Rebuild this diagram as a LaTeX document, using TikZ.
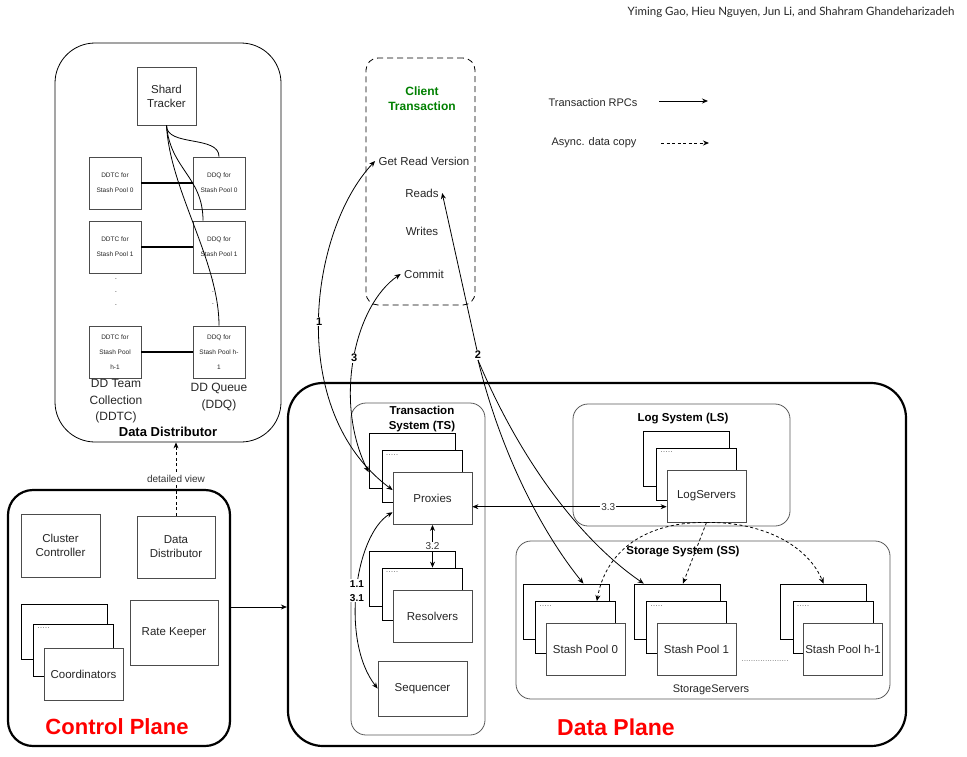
\documentclass[tikz,border=0pt]{standalone}
\usepackage{fontspec}
\setmainfont{Liberation Sans}
\newfontfamily\hdrfont{Lato}
\usetikzlibrary{arrows.meta,positioning}

\begin{document}
\begin{tikzpicture}[x=1pt,y=-1pt,>={Stealth[length=6pt,width=5pt]},
box/.style={draw=black!70,line width=0.8pt,fill=white,align=center,inner sep=1pt,text=black!85,font=\fontsize{11.5}{14}\selectfont},
ddbox/.style={box,minimum width=52pt,minimum height=52pt,font=\fontsize{6.5}{15}\selectfont},
backbox/.style={box,draw=black,minimum width=86pt,minimum height=55pt},
midbox/.style={box,draw=black,minimum width=80pt,minimum height=52pt},
frontbox/.style={box,minimum width=79pt,minimum height=52pt},
grp/.style={draw=black!65,line width=0.8pt,rounded corners=15pt},
planebox/.style={draw,line width=2.2pt},
ttl/.style={align=center,font=\bfseries\fontsize{11.5}{15}\selectfont},
num/.style={fill=white,inner sep=1pt,align=center,font=\bfseries\fontsize{11}{14}\selectfont},
lbl/.style={fill=white,inner sep=1pt,text=black!80,font=\fontsize{10}{12}\selectfont},
fewdots/.style={anchor=north west,inner sep=4pt,text=black!50,font=\fontsize{9}{10}\selectfont},
async/.style={line width=0.8pt,dash pattern=on 3pt off 2.5pt},
rpc/.style={line width=0.8pt}]
\useasboundingbox (0,0) rectangle (967,756);

\node[anchor=north east,text=black!85,font=\hdrfont\fontsize{11.5}{13}\selectfont] (hdr) at (958,3) {Yiming Gao, Hieu Nguyen, Jun Li, and Shahram Ghandeharizadeh};

% data distributor, detailed view
\node[draw,line width=0.8pt,rounded corners=40pt,minimum width=226pt,minimum height=399pt] (dd) at (168,242.5) {};
\node[font=\bfseries\fontsize{13}{15}\selectfont] (ddt) at (168,432) {Data Distributor};
\node[box,minimum width=59pt,minimum height=58pt] (st) at (166.5,96) {Shard\\Tracker};
\foreach \i/\y in {0/183,1/247}{
  \node[ddbox] (ddtc\i) at (115,\y) {DDTC for\\Stash Pool \i};
  \node[ddbox] (ddq\i) at (219,\y) {DDQ for\\Stash Pool \i};
}
\node[ddbox] (ddtch) at (115,352) {DDTC for\\Stash Pool\\h-1};
\node[ddbox] (ddqh) at (219,352) {DDQ for\\Stash Pool h-\\1};
\foreach \i in {0,1,h}
  \draw[line width=1.5pt] (ddtc\i) -- (ddq\i);
\node[align=center,text=black!70,font=\fontsize{8}{13}\selectfont] (dtsa) at (116,292) {.\\.\\.};
\node[align=center,text=black!70,font=\fontsize{8}{12}\selectfont] (dtsb) at (213,292) {.\\.\\.};
\draw[rpc] (st.south) to[out=-90,in=90,looseness=0.9] (ddq0.north);
\draw[rpc] (st.south) to[out=-85,in=90,looseness=1.1] ([xshift=-16pt]ddq1.north);
\draw[rpc] (st.south) to[out=-87,in=90,looseness=0.8] (ddqh.north);
\node[align=center,text=black!85,font=\fontsize{12}{16.5}\selectfont,anchor=north] (ddtcl) at (116,376) {DD Team\\Collection\\(DDTC)};
\node[align=center,text=black!85,font=\fontsize{12}{16.5}\selectfont,anchor=north] (ddql) at (219,380) {DD Queue\\(DDQ)};

% client transaction
\node[draw,line width=0.8pt,dash pattern=on 6pt off 4pt,rounded corners=12pt,minimum width=109pt,minimum height=247pt] (ct) at (420.5,181.5) {};
\node[ttl,text=green!50!black,font=\bfseries\fontsize{12}{15}\selectfont] (ctt) at (422,99) {Client\\Transaction};
\node[text=black!85,font=\fontsize{11.5}{14}\selectfont] (grv) at (424,161) {Get Read Version};
\node[text=black!85,font=\fontsize{11.5}{14}\selectfont] (rds) at (422,193) {Reads};
\node[text=black!85,font=\fontsize{11.5}{14}\selectfont] (wrt) at (422,231) {Writes};
\node[text=black!85,font=\fontsize{11.5}{14}\selectfont] (cmt) at (424,274) {Commit};

% legend
\node[text=black!85,font=\fontsize{11}{13}\selectfont] (lgr) at (593,103) {Transaction RPCs};
\node[text=black!85,font=\fontsize{11}{13}\selectfont] (lga) at (594,143) {Async. data copy};
\coordinate (lgr1) at (659,101); \coordinate (lgr2) at (708,101);
\coordinate (lga1) at (661,143); \coordinate (lga2) at (709,143);
\draw[rpc,->] (lgr1) -- (lgr2);
\draw[async,->] (lga1) -- (lga2);

% control plane
\node[planebox,rounded corners=25pt,minimum width=222pt,minimum height=256pt] (cp) at (119,618) {};
\node[text=red,font=\bfseries\fontsize{22}{26}\selectfont] (cpt) at (117,727) {Control Plane};
\node[box,minimum width=79pt,minimum height=63pt] (cc) at (60.5,545.5) {Cluster\\Controller};
\node[box,minimum width=78pt,minimum height=62pt] (ddsm) at (176,547) {Data\\Distributor};
\node[box,minimum width=88pt,minimum height=65pt] (rk) at (174,632.5) {Rate Keeper};
\node[backbox] (crd3) at (64,631.5) {};
\node[midbox] (crd2) at (73.5,650) {};
\node[fewdots] (crdd) at (crd2.north west) {.....};
\node[frontbox] (crd) at (83.5,674) {Coordinators};
\draw[async,->] (ddsm.north) -- node[lbl]{detailed view} (ddsm.north |- dd.south);

% data plane
\node[planebox,rounded corners=35pt,minimum width=618pt,minimum height=363pt] (dp) at (597,564.5) {};
\node[text=red,font=\bfseries\fontsize{23}{27}\selectfont] (dpt) at (616,727) {Data Plane};
\draw[rpc,->] ([yshift=11pt]cp.east) -- ([yshift=11pt]cp.east -| dp.west);

% transaction system
\node[grp,minimum width=134pt,minimum height=332pt] (ts) at (418,569) {};
\node[ttl] (tst) at (422,419) {Transaction\\System (TS)};
\node[backbox] (prx3) at (412,460.5) {};
\node[midbox] (prx2) at (422,476.5) {};
\node[fewdots] (prxd) at (prx2.north west) {.....};
\node[frontbox] (prx) at (432.5,498.5) {Proxies};
\node[backbox] (rsv3) at (412,578.5) {};
\node[midbox] (rsv2) at (422,594) {};
\node[fewdots] (rsvd) at (rsv2.north west) {.....};
\node[frontbox] (rsv) at (432.5,616) {Resolvers};
\node[box,minimum width=89pt,minimum height=55pt] (seq) at (422.5,688.5) {Sequencer};

% log system
\node[grp,minimum width=217pt,minimum height=122pt] (ls) at (681.5,465) {};
\node[ttl] (lst) at (683,419) {Log System (LS)};
\node[backbox] (lgs3) at (686.5,458.5) {};
\node[midbox] (lgs2) at (696.5,474) {};
\node[fewdots] (lgsd) at (lgs2.north west) {.....};
\node[frontbox] (lgs) at (706.5,496) {LogServers};

% storage system
\node[grp,minimum width=374pt,minimum height=158pt] (ss) at (703,620) {};
\node[ttl] (sst) at (683,552) {Storage System (SS)};
\node[text=black!85,font=\fontsize{11}{13}\selectfont] (ssl) at (711,690) {StorageServers};
\foreach \i/\x/\t in {0/585.5/0,1/696.5/1,h/843/h-1}{
  \node[backbox] (plc\i) at (\x-19.5,611.5) {};
  \node[midbox] (plb\i) at (\x-10,627.5) {};
  \node[fewdots] (pld\i) at (plb\i.north west) {.....};
  \node[frontbox] (pl\i) at (\x,649) {Stash Pool \t};
}
\node[text=black!50,font=\fontsize{8.5}{10}\selectfont] (plsk) at (765,661) {....................};

% transaction RPCs
\draw[rpc,<->] (prx.168) .. controls (285,410) and (310,230) .. node[num,pos=0.5]{1} (grv.west);
\draw[rpc,<->] (prx3.195) .. controls (333,400) and (355,305) .. node[num,pos=0.5]{3} (cmt.west);
\node[num] (n2) at (478,355) {2};
\draw[rpc,->] (n2) -- (rds.east);
\draw[rpc,->] (n2.south) .. controls (500,450) and (540,530) .. (plc0.58);
\draw[rpc,->] (n2.south) .. controls (520,460) and (580,540) .. (plc1.140);
\draw[rpc,<->] (prx.199) .. controls (355,535) and (340,640) .. node[num,font=\bfseries\fontsize{10}{14}\selectfont,pos=0.5]{1.1\\3.1} (seq.west);
\draw[rpc,<->] (prx.south) -- node[lbl]{3.2} (prx.south |- rsv2.north);
\draw[rpc,<->] (prx.east |- lgs.195) -- node[lbl,pos=0.7]{3.3} (lgs.195);

% async copies
\draw[async,->] (lgs.south) .. controls (640,522) and (605,555) .. (plb0.51);
\draw[async,->] (lgs.south) -- (plc1.78);
\draw[async,->] (lgs.south) .. controls (770,522) and (810,550) .. (plch.north);
\end{tikzpicture}
\end{document}
